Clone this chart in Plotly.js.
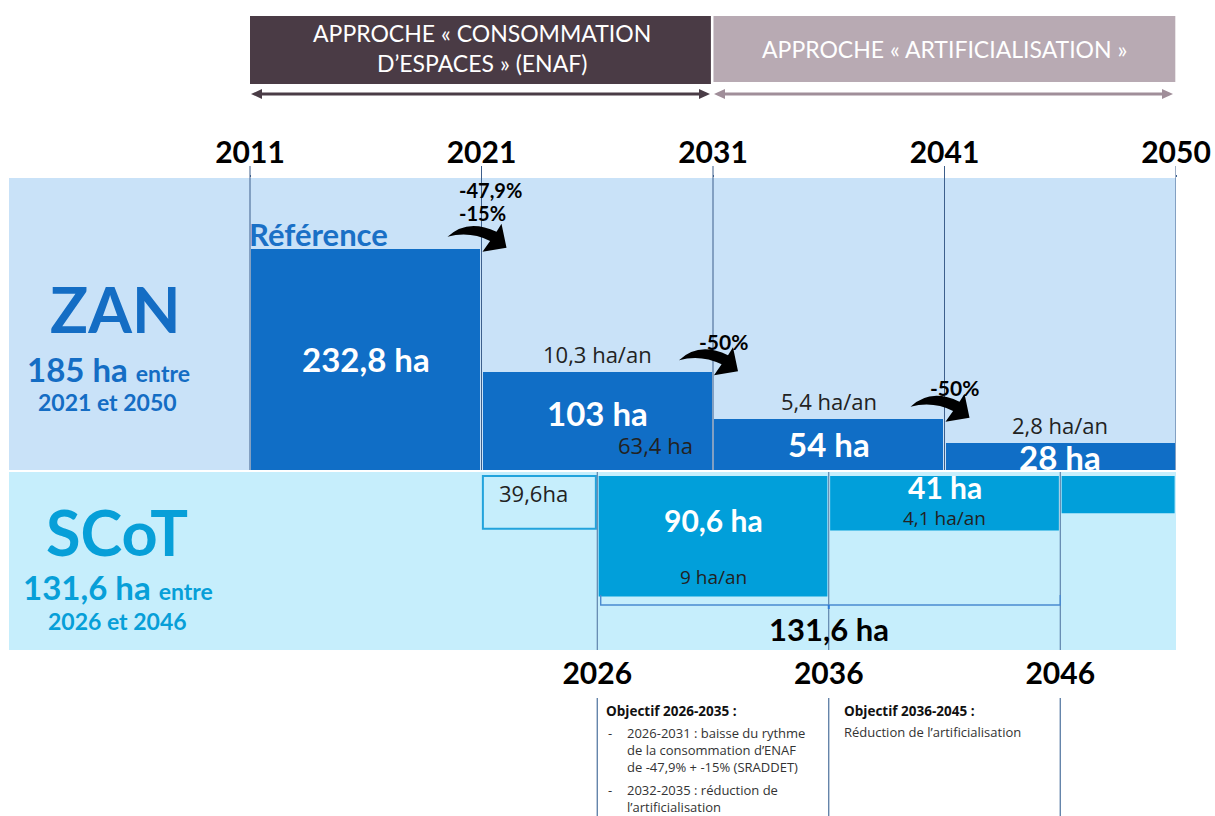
<!DOCTYPE html>
<html><head><meta charset="utf-8">
<script src="https://cdn.plot.ly/plotly-3.0.1.min.js"></script>
<style>html,body{margin:0;padding:0;background:#fff;} #chart{width:1215px;height:816px;}</style>
</head><body><div id="chart"></div>
<script>
// ---------------- data ----------------
const zanPeriodStart = [2011, 2021, 2031, 2041];
const zanPeriodEnd   = [2021, 2031, 2041, 2051];   // 2051 = end of 2050
const zanValues      = [232.8, 103, 54, 28];
const zanRates       = [null, 10.3, 5.4, 2.8];
const zanChanges     = [['-47,9%', '-15%'], ['-50%'], ['-50%']];
const zanSplitValue  = 63.4;                        // part of 2021-2031 after 2026
const scotPeriodStart = [2021, 2026, 2036, 2046];
const scotPeriodEnd   = [2026, 2036, 2046, 2051];
const scotValues      = [39.6, 90.6, 41, 28];
const scotRates       = [null, 9, 4.1, null];
const scotShowValue   = [true, true, true, false];
const topTickVals  = [2011, 2021, 2031, 2041, 2051];
const topTickText  = ['2011', '2021', '2031', '2041', '2050'];
const bottomTickVals = [2026, 2036, 2046];
const bottomTickText = ['2026', '2036', '2046'];
const headerLabels = ['APPROCHE « CONSOMMATION<br>D’ESPACES » (ENAF)', 'APPROCHE « ARTIFICIALISATION »'];
const headerStart  = [2011, 2031];
const headerEnd    = [2031, 2051];

// ---------------- geometry helpers ----------------
const W = 1215, H = 816, ML = 9, MR = 39, MT = 178, MB = 166;
const PW = W - ML - MR, PH = H - MT - MB;
const xp = px => (px - ML) / PW;
const yp = py => (H - MB - py) / PH;
const fr = v => String(v).replace('.', ',');
const mid = (a, b) => (a + b) / 2;
const PXY = (1176 - 250) / 40;            // pixels per year
const X0 = 2011 - (250 - ML) / PXY;
const ZAN_SCALE = 0.95, SCOT_SCALE = 1.33; // px per ha

const ZAN_BLUE = '#106ec6', SCOT_BLUE = '#019fda', BAND_TOP = '#c9e2f8', BAND_BOT = '#c6eefc';
const LINE = '#3d5f8c', TXT = '#222222';
const ZAN_TXT = '#146dc4', SCOT_TXT = '#079fd8';

const traces = [
  {type: 'bar', xaxis: 'x', yaxis: 'y',
   x: zanPeriodStart.map((s, i) => mid(s, zanPeriodEnd[i])),
   y: zanValues,
   width: zanPeriodStart.map((s, i) => zanPeriodEnd[i] - s - 0.12),
   marker: {color: ZAN_BLUE, line: {width: 0}}, hoverinfo: 'skip'},
  {type: 'bar', xaxis: 'x2', yaxis: 'y2',
   x: scotPeriodStart.map((s, i) => mid(s, scotPeriodEnd[i])),
   y: scotValues,
   width: scotPeriodStart.map((s, i) => scotPeriodEnd[i] - s - 0.12),
   marker: {color: scotValues.map((v, i) => i === 0 ? 'rgba(0,0,0,0)' : SCOT_BLUE),
            line: {color: '#22a3dc', width: scotValues.map((v, i) => i === 0 ? 2 : 0)}},
   hoverinfo: 'skip'}
];

const shapes = [];
const ann = [];
const A = o => ann.push(Object.assign({showarrow: false, xanchor: 'center', yanchor: 'middle'}, o));

// bands
shapes.push({type: 'rect', layer: 'below', xref: 'paper', yref: 'y domain', x0: 0, x1: 1, y0: 0, y1: 1, fillcolor: BAND_TOP, line: {width: 0}});
shapes.push({type: 'rect', layer: 'below', xref: 'paper', yref: 'y2 domain', x0: 0, x1: 1, y0: 0, y1: 1, fillcolor: BAND_BOT, line: {width: 0}});

// upper year lines (from below the labels to the bottom of the ZAN band)
topTickVals.forEach(v => shapes.push({type: 'line', xref: 'x', yref: 'paper', x0: v, x1: v, y0: yp(470), y1: yp(166), line: {color: LINE, width: 1}}));
// lower year lines
bottomTickVals.forEach(v => {
  shapes.push({type: 'line', xref: 'x', yref: 'y2 domain', x0: v, x1: v, y0: 0, y1: 1, line: {color: '#4a6f9c', width: 1}});
  shapes.push({type: 'line', xref: 'x', yref: 'paper', x0: v, x1: v, y0: yp(698), y1: yp(816), line: {color: '#4a6f9c', width: 1.2}});
});

// header boxes + arrows
const headerFill = ['#4a3b45', '#b8aab3'];
const arrowCol = ['#4a3c46', '#a08e99'];
headerLabels.forEach((t, i) => {
  shapes.push({type: 'rect', xref: 'x', yref: 'paper', x0: headerStart[i] + (i ? 0.02 : 0), x1: headerEnd[i] - (i ? 0.03 : 0.09),
               y0: yp(i ? 82 : 84), y1: yp(16), fillcolor: headerFill[i], line: {width: 0}});
  A({xref: 'x', yref: 'paper', x: mid(headerStart[i], headerEnd[i]), y: yp(i ? 49 : 48), text: t,
     font: {family: 'Lato', size: 23, color: '#ffffff'}, align: 'center'});
  const ya = yp(94);
  shapes.push({type: 'line', xref: 'x', yref: 'paper', x0: headerStart[i] + 0.35, x1: headerEnd[i] - 0.35, y0: ya, y1: ya,
               line: {color: arrowCol[i], width: 3}});
  shapes.push({type: 'path', xref: 'x', yref: 'paper', xsizemode: 'pixel', ysizemode: 'pixel',
               xanchor: headerStart[i], yanchor: ya, path: 'M 1,0 L 12,5 L 12,-5 Z', fillcolor: arrowCol[i], line: {width: 0}});
  shapes.push({type: 'path', xref: 'x', yref: 'paper', xsizemode: 'pixel', ysizemode: 'pixel',
               xanchor: headerEnd[i], yanchor: ya, path: 'M -3,0 L -14,5 L -14,-5 Z', fillcolor: arrowCol[i], line: {width: 0}});
});

// ZAN bar labels
zanValues.forEach((v, i) => {
  const xm = mid(zanPeriodStart[i], zanPeriodEnd[i]);
  A({xref: 'x', yref: 'y', x: xm, y: v / 2, yshift: i === 1 ? 8 : 0, text: '<b>' + fr(v) + ' ha</b>',
     font: {family: 'Lato', size: 33, color: '#ffffff'}});
  if (zanRates[i] !== null) {
    A({xref: 'x', yref: 'y', x: xm, y: v, yanchor: 'bottom', yshift: 1, text: fr(zanRates[i]) + ' ha/an',
       font: {family: 'Open Sans', size: 22, color: TXT}});
  }
});
A({xref: 'x', yref: 'y', x: zanPeriodStart[0], y: zanValues[0], xanchor: 'left', yanchor: 'bottom', xshift: -3, yshift: -6,
   text: '<b>Référence</b>', font: {family: 'Lato', size: 31, color: '#1a70c6'}});
A({xref: 'x', yref: 'y', x: mid(scotPeriodStart[1], zanPeriodEnd[1]), y: 0, yanchor: 'bottom', yshift: 8,
   text: fr(zanSplitValue) + ' ha', font: {family: 'Open Sans', size: 22, color: TXT}});

// change arrows and labels
const arrowPath = 'M -34,12 Q -14,31 15,17 L 20,25 L 25,1 L 1,-3 L 8.6,7.8 Q -12,18 -34,12 Z';
zanChanges.forEach((lines, j) => {
  const xa = zanPeriodStart[j + 1], ya = zanValues[j];
  shapes.push({type: 'path', xref: 'x', yref: 'y', xsizemode: 'pixel', ysizemode: 'pixel', xanchor: xa, yanchor: ya,
               path: arrowPath, fillcolor: '#000000', line: {width: 0}});
  const n = lines.length;
  lines.forEach((t, k) => {
    if (n > 1) {
      A({xref: 'x', yref: 'y', x: xa, y: ya, text: '<b>' + t + '</b>', xanchor: 'left', xshift: -25,
         yanchor: 'bottom', yshift: 22 + (n - 1 - k) * 23, font: {family: 'Lato', size: 20, color: '#000000'}});
    } else {
      A({xref: 'x', yref: 'y', x: xa, y: ya, text: '<b>' + t + '</b>', xshift: 10, yshift: 31,
         font: {family: 'Lato', size: 21, color: '#000000'}});
    }
  });
});

// SCoT labels
scotValues.forEach((v, i) => {
  const xm = mid(scotPeriodStart[i], scotPeriodEnd[i]);
  if (!scotShowValue[i]) return;
  if (i === 0) {
    A({xref: 'x', yref: 'y2', x: xm, y: 13, text: fr(v) + 'ha', xshift: -6,
       font: {family: 'Open Sans', size: 22, color: TXT}});
  } else {
    A({xref: 'x', yref: 'y2', x: xm, y: (v - 24) / 2, text: '<b>' + fr(v) + ' ha</b>',
       font: {family: 'Lato', size: 30, color: '#ffffff'}});
  }
  if (scotRates[i] !== null) {
    A({xref: 'x', yref: 'y2', x: xm, y: v, yanchor: 'bottom', yshift: i === 1 ? 5 : -2, text: fr(scotRates[i]) + ' ha/an',
       font: {family: 'Open Sans', size: 19, color: TXT}});
  }
});

// brace 2026-2046
const braceY = 97, braceEnd = 89.5, braceTip = 100;
const b0 = scotPeriodStart[1] + 0.15, b1 = scotPeriodEnd[2];
shapes.push({type: 'path', xref: 'x', yref: 'y2',
             path: `M ${b0},${braceEnd} L ${b0},${braceY} L ${b1},${braceY} L ${b1},${braceEnd}`,
             line: {color: '#4a8ad0', width: 1.4}});
shapes.push({type: 'line', xref: 'x', yref: 'y2', x0: scotPeriodEnd[1], x1: scotPeriodEnd[1], y0: braceY, y1: braceTip,
             line: {color: '#2a7ad8', width: 2}});
A({xref: 'x', yref: 'y2', x: scotPeriodEnd[1], y: 115,
   text: '<b>' + fr(Math.round((scotValues[1] + scotValues[2]) * 10) / 10) + ' ha</b>',
   font: {family: 'Lato', size: 31, color: '#000000'}});

// left titles
A({xref: 'paper', yref: 'paper', x: xp(115), y: yp(308), text: '<b>ZAN</b>',
   font: {family: 'Lato', size: 63, color: ZAN_TXT}});
A({xref: 'paper', yref: 'paper', x: xp(108), y: yp(369),
   text: '<b>185 ha <span style="font-size:23px">entre</span></b>', font: {family: 'Lato', size: 33, color: ZAN_TXT}});
A({xref: 'paper', yref: 'paper', x: xp(107), y: yp(402),
   text: '<b>2021 et 2050</b>', font: {family: 'Lato', size: 23, color: ZAN_TXT}});
A({xref: 'paper', yref: 'paper', x: xp(117), y: yp(531), text: '<b>SCoT</b>',
   font: {family: 'Lato', size: 63, color: SCOT_TXT}});
A({xref: 'paper', yref: 'paper', x: xp(118), y: yp(587),
   text: '<b>131,6 ha <span style="font-size:23px">entre</span></b>', font: {family: 'Lato', size: 33, color: SCOT_TXT}});
A({xref: 'paper', yref: 'paper', x: xp(117), y: yp(621),
   text: '<b>2026 et 2046</b>', font: {family: 'Lato', size: 23, color: SCOT_TXT}});

// objectives text
const objFont = {family: 'Open Sans', size: 13, color: '#333333'};
const objBold = {family: 'Open Sans', size: 13.5, color: '#111111'};
const L = o => A(Object.assign({xref: 'paper', yref: 'paper', xanchor: 'left', yanchor: 'top', align: 'left'}, o));
L({x: xp(604), y: yp(700), text: '<b>Objectif 2026-2035 :</b>', font: objBold});
L({x: xp(606), y: yp(722), text: '-', font: objFont});
L({x: xp(625), y: yp(722), text: '2026-2031 : baisse du rythme<br>de la consommation d’ENAF<br>de -47,9% + -15% (SRADDET)', font: objFont});
L({x: xp(606), y: yp(779), text: '-', font: objFont});
L({x: xp(625), y: yp(779), text: '2032-2035 : réduction de<br>l’artificialisation', font: objFont});
L({x: xp(842), y: yp(700), text: '<b>Objectif 2036-2045 :</b>', font: objBold});
L({x: xp(842), y: yp(721), text: 'Réduction de l’artificialisation', font: objFont});

const yearFont = {family: 'Lato', size: 30, color: '#000000', weight: 700};
const layout = {
  width: W, height: H, margin: {l: ML, r: MR, t: MT, b: MB},
  paper_bgcolor: '#ffffff', plot_bgcolor: 'rgba(0,0,0,0)', showlegend: false, bargap: 0, hovermode: false,
  xaxis: {range: [X0, 2051], side: 'top', anchor: 'y', tickmode: 'array', tickvals: topTickVals, ticktext: topTickText,
          ticks: 'outside', ticklen: 2, tickwidth: 1, tickcolor: LINE, tickfont: yearFont,
          showgrid: false, zeroline: false, showline: false, fixedrange: true},
  xaxis2: {range: [X0, 2051], side: 'bottom', anchor: 'y2', matches: 'x', tickmode: 'array', tickvals: bottomTickVals, ticktext: bottomTickText,
           ticks: '', ticklabelstandoff: 3, tickfont: yearFont,
           showgrid: false, zeroline: false, showline: false, fixedrange: true},
  yaxis: {domain: [yp(470), 1], range: [0, 292 / ZAN_SCALE], visible: false, fixedrange: true},
  yaxis2: {domain: [0, yp(472)], range: [(650 - 476) / SCOT_SCALE, -4 / SCOT_SCALE], visible: false, fixedrange: true},
  shapes: shapes, annotations: ann
};
Plotly.newPlot('chart', traces, layout, {displayModeBar: false, staticPlot: true});
</script>
</body></html>
